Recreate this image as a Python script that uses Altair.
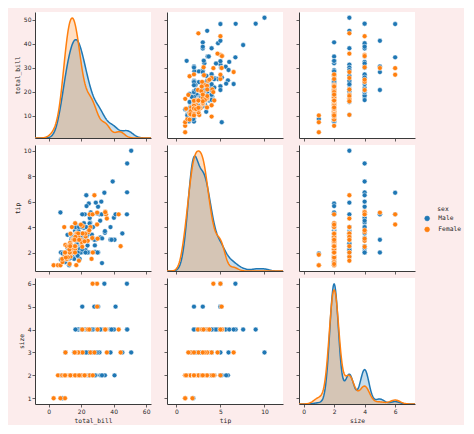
import numpy as np
import pandas as pd
import altair as alt

total_bill = [
    16.99, 10.34, 21.01, 23.68, 24.59, 25.29, 8.77, 26.88, 15.04, 14.78,
    10.27, 35.26, 15.42, 18.43, 14.83, 21.58, 10.33, 16.29, 16.97, 20.65,
    17.92, 20.29, 15.77, 39.42, 19.82, 17.81, 13.37, 12.69, 21.70, 19.65,
    9.55, 18.35, 15.06, 20.69, 17.78, 24.06, 16.31, 16.93, 18.69, 31.27,
    16.04, 17.46, 13.94, 9.68, 30.40, 18.29, 22.23, 32.40, 28.55, 18.04,
    12.54, 10.29, 34.81, 9.94, 25.56, 19.49, 38.01, 26.41, 11.24, 48.27,
    20.29, 13.81, 11.02, 18.29, 17.59, 20.08, 16.45, 3.07, 20.23, 15.01,
    12.02, 17.07, 26.86, 25.28, 14.73, 10.51, 17.92, 27.20, 22.76, 17.29,
    19.44, 16.66, 10.07, 32.68, 15.98, 34.83, 13.03, 18.28, 24.71, 21.16,
    28.97, 22.49, 5.75, 16.32, 22.75, 40.17, 27.28, 12.03, 21.01, 12.46,
    11.35, 15.38, 44.30, 22.42, 20.92, 15.36, 20.49, 25.21, 18.24, 14.31,
    14.00, 7.25, 38.07, 23.95, 25.71, 17.31, 29.93, 10.65, 12.43, 24.08,
    11.69, 13.42, 14.26, 15.95, 12.48, 29.80, 8.52, 14.52, 11.38, 22.82,
    19.08, 20.27, 11.17, 12.26, 18.26, 8.51, 10.33, 14.15, 16.00, 13.16,
    17.47, 34.30, 41.19, 27.05, 16.43, 8.35, 18.64, 11.87, 9.78, 7.51,
    14.07, 13.13, 17.26, 24.55, 19.77, 29.85, 48.17, 25.00, 13.39, 16.49,
    21.50, 12.66, 16.21, 13.81, 17.51, 24.52, 20.76, 31.71, 10.59, 10.63,
    50.81, 15.81, 7.25, 31.85, 16.82, 32.90, 17.89, 14.48, 9.60, 34.63,
    34.65, 23.33, 45.35, 23.17, 40.55, 20.69, 20.90, 30.46, 18.15, 23.10,
    15.69, 19.81, 28.44, 15.48, 16.58, 7.56, 10.34, 43.11, 13.00, 13.51,
    18.71, 12.74, 13.00, 16.40, 20.53, 16.47, 26.59, 38.73, 24.27, 12.76,
    30.06, 25.89, 48.33, 13.27, 28.17, 12.90, 28.15, 11.59, 7.74, 30.14,
    12.16, 13.42, 8.58, 15.98, 13.42, 16.27, 10.09, 20.45, 13.28, 22.12,
    24.01, 15.69, 11.61, 10.77, 15.53, 10.07, 12.60, 32.83, 35.83, 29.03,
    27.18, 22.67, 17.82, 18.78,
]

tip = [
    1.01, 1.66, 3.50, 3.31, 3.61, 4.71, 2.00, 3.12, 1.96, 3.23,
    1.71, 5.00, 1.57, 3.00, 3.02, 3.92, 1.67, 3.71, 3.50, 3.35,
    4.08, 2.75, 2.23, 7.58, 3.18, 2.34, 2.00, 2.00, 4.30, 3.00,
    1.45, 2.50, 3.00, 2.45, 3.27, 3.60, 2.00, 3.07, 2.31, 5.00,
    2.24, 2.54, 3.06, 1.32, 5.60, 3.00, 5.00, 6.00, 2.05, 3.00,
    2.50, 2.60, 5.20, 1.56, 4.34, 3.51, 3.00, 1.50, 1.76, 6.73,
    3.21, 2.00, 1.98, 3.76, 2.64, 3.15, 2.47, 1.00, 2.01, 2.09,
    1.97, 3.00, 3.14, 5.00, 2.20, 1.25, 3.08, 4.00, 3.00, 2.71,
    3.00, 3.40, 1.83, 5.00, 2.03, 5.17, 2.00, 4.00, 5.85, 3.00,
    3.00, 3.50, 1.00, 4.30, 3.25, 4.73, 4.00, 1.50, 3.00, 1.50,
    2.50, 3.00, 2.50, 3.48, 4.08, 1.64, 4.06, 4.29, 3.76, 4.00,
    3.00, 1.00, 4.00, 2.55, 4.00, 3.50, 5.07, 1.50, 1.80, 2.92,
    2.31, 1.68, 2.50, 2.00, 2.52, 4.20, 1.48, 2.00, 2.00, 2.18,
    1.50, 2.83, 1.50, 2.00, 3.25, 1.25, 2.00, 2.00, 2.00, 2.75,
    3.50, 6.70, 5.00, 5.00, 2.30, 1.50, 1.36, 1.63, 1.73, 2.00,
    2.50, 2.00, 2.74, 2.00, 2.00, 5.14, 5.00, 3.75, 2.61, 2.00,
    3.50, 2.50, 2.00, 2.00, 3.00, 3.48, 2.24, 4.50, 1.61, 2.00,
    10.00, 3.16, 5.15, 3.18, 4.00, 3.11, 2.00, 2.00, 4.00, 3.55,
    3.68, 5.65, 3.50, 6.50, 3.00, 5.00, 3.50, 2.00, 3.50, 4.00,
    1.50, 4.19, 2.56, 2.02, 4.00, 1.44, 2.00, 5.00, 2.00, 2.00,
    4.00, 2.01, 2.00, 2.50, 4.00, 3.23, 3.41, 3.00, 2.03, 2.23,
    2.00, 5.16, 9.00, 2.50, 6.50, 1.10, 3.00, 1.50, 1.44, 3.09,
    2.20, 3.48, 1.92, 3.00, 1.58, 2.50, 2.00, 3.00, 2.72, 2.88,
    2.00, 3.00, 3.39, 1.47, 3.00, 1.25, 1.00, 1.17, 4.67, 5.92,
    2.00, 2.00, 1.75, 3.00,
]

party_size = [
    2, 3, 3, 2, 4, 4, 2, 4, 2, 2,
    2, 4, 2, 4, 2, 2, 3, 3, 3, 3,
    2, 2, 2, 4, 2, 4, 2, 2, 2, 2,
    2, 4, 2, 4, 2, 3, 3, 3, 3, 3,
    3, 2, 2, 2, 4, 2, 2, 4, 3, 2,
    2, 2, 4, 2, 4, 2, 4, 2, 2, 4,
    2, 2, 2, 4, 3, 3, 2, 1, 2, 2,
    2, 3, 2, 2, 2, 2, 2, 4, 2, 2,
    2, 2, 1, 2, 2, 4, 2, 2, 2, 2,
    2, 2, 2, 2, 2, 4, 2, 2, 2, 2,
    2, 2, 3, 2, 2, 2, 2, 2, 2, 2,
    2, 1, 3, 2, 3, 2, 4, 2, 2, 4,
    2, 2, 2, 2, 2, 6, 2, 2, 2, 3,
    2, 2, 2, 2, 2, 2, 2, 2, 2, 2,
    2, 6, 5, 6, 2, 2, 3, 2, 2, 2,
    2, 2, 3, 4, 4, 5, 6, 4, 2, 4,
    4, 2, 3, 2, 2, 3, 2, 4, 2, 2,
    3, 2, 2, 2, 2, 2, 2, 2, 2, 2,
    4, 2, 3, 4, 2, 5, 3, 5, 3, 3,
    2, 2, 2, 2, 2, 2, 2, 4, 2, 2,
    3, 2, 2, 2, 4, 3, 3, 4, 2, 2,
    3, 4, 4, 2, 3, 2, 5, 2, 2, 4,
    2, 2, 1, 3, 2, 2, 2, 4, 2, 2,
    4, 3, 2, 2, 2, 2, 2, 2, 3, 3,
    2, 2, 2, 2,
]

sex_codes = (
    "FMMMFMMMMM" "MFMMFMFMFM" "MFFMMMMMMF" "MMFFMMMFMM" "MMMMMMMMMM"
    "MFFMMMMFMM" "MMMMMMFFMM" "MFFFFMMMMM" "MMFMMFMMMM" "MMFFFMMMMM"
    "FFFFFMMMMF" "MFMMFFMFFF" "MFMMFFMFFM" "MFFFFFFFMF" "FMMFFFFFMM"
    "MMMMMFMFFM" "MMFMFMMMFF" "MMMMMMMMFM" "MMMMMMFMFM" "MFMMMMMFFM"
    "MFFFMFMMMF" "MMMFFFMMMF" "MFMFMFFMMF" "MMMMMMMMFM" "FMMF"
)
sex = ["Male" if c == "M" else "Female" for c in sex_codes]

hue_levels = ["Male", "Female"]
hue_colors = ["#1f77b4", "#ff7f0e"]
variables = ["total_bill", "tip", "size"]

x_domains = {"total_bill": [-8.4, 63.0], "tip": [-1.06, 12.1], "size": [-0.3, 7.3]}
y_domains = {"total_bill": [0.68, 53.2], "tip": [0.55, 10.45], "size": [0.75, 6.25]}
x_ticks = {"total_bill": [0, 20, 40, 60], "tip": [0, 5, 10], "size": [0, 2, 4, 6]}
y_ticks = {"total_bill": [10, 20, 30, 40, 50], "tip": [2, 4, 6, 8, 10], "size": [1, 2, 3, 4, 5, 6]}

df = pd.DataFrame({"total_bill": total_bill, "tip": tip, "size": party_size, "sex": sex})
df["hue_order"] = (df["sex"] == "Female").astype(int)
df = df.sort_values("hue_order", kind="stable").reset_index(drop=True)

PW, PH = 116, 126
AX_COLOR = "#3a3a3a"
TXT = "#262626"


def kde_peak(vals, lo, hi):
    v = np.asarray(vals, dtype=float)
    n = len(v)
    sd = v.std(ddof=1)
    q1, q3 = np.percentile(v, [25, 75])
    spread = min(sd, (q3 - q1) / 1.34) or sd
    bw = 1.06 * spread * n ** -0.2
    grid = np.linspace(lo, hi, 200)
    dens = np.exp(-0.5 * ((grid[:, None] - v[None, :]) / bw) ** 2).sum(1) / (n * bw * np.sqrt(2 * np.pi))
    return dens.max()


def make_axis(ticks, show_labels, title, orient):
    kw = dict(values=ticks, labels=show_labels, grid=False, orient=orient,
              tickSize=3, tickWidth=0.8, tickColor=AX_COLOR,
              domainColor=AX_COLOR, domainWidth=1,
              labelFont="DejaVu Sans", labelFontSize=6, labelColor=TXT, labelPadding=1,
              titleFont="DejaVu Sans Mono", titleFontSize=6.3, titleColor=TXT,
              titleFontWeight="normal", titlePadding=3)
    if show_labels:
        kw["title"] = title
    else:
        kw["title"] = None
    return alt.Axis(**kw)


color_legend = alt.Legend(
    title="sex", orient="none", legendX=389, legendY=194,
    titleFont="DejaVu Sans Mono", titleFontSize=6.3, titleFontWeight="normal", titleColor=TXT,
    labelFont="DejaVu Sans Mono", labelFontSize=6.3, labelColor=TXT, labelOffset=8,
    symbolType="circle", symbolSize=24, symbolStrokeColor="white", symbolStrokeWidth=0.5,
    symbolOpacity=1,
    rowPadding=3, titlePadding=3, titleAnchor="middle",
)
color_enc = alt.Color("sex:N", scale=alt.Scale(domain=hue_levels, range=hue_colors), legend=color_legend)

panels = []
for ri, rv in enumerate(variables):
    for ci, cv in enumerate(variables):
        xaxis = make_axis(x_ticks[cv], ri == 2, cv, "bottom")
        yaxis = make_axis(y_ticks[rv], ci == 0, rv, "left")
        xscale = alt.Scale(domain=x_domains[cv], nice=False, zero=False)
        yscale = alt.Scale(domain=y_domains[rv], nice=False, zero=False)
        if ri != ci:
            p = alt.Chart(df).mark_point(
                filled=True, size=24, stroke="white", strokeWidth=0.5, opacity=1
            ).encode(
                x=alt.X(f"{cv}:Q", scale=xscale, axis=xaxis),
                y=alt.Y(f"{rv}:Q", scale=yscale, axis=yaxis),
                color=color_enc,
            ).properties(width=PW, height=PH)
        else:
            lo, hi = x_domains[cv]
            peak = max(kde_peak(df.loc[df.sex == s, cv], lo, hi) for s in hue_levels)
            dens = alt.Chart(df).transform_density(
                cv, groupby=["sex"], extent=[lo, hi], steps=200, as_=[cv, "density"]
            ).mark_area(
                fillOpacity=0.25, clip=True, line=alt.OverlayMarkDef(strokeWidth=1.5)
            ).encode(
                x=alt.X(f"{cv}:Q", scale=xscale, axis=xaxis),
                y=alt.Y("density:Q", stack=None,
                        scale=alt.Scale(domain=[0, peak * 1.05], nice=False, zero=True), axis=None),
                color=color_enc,
            )
            dummy = alt.Chart(df).mark_point(opacity=0).encode(
                y=alt.Y(f"{rv}:Q", scale=yscale, axis=yaxis),
            )
            p = alt.layer(dens, dummy).resolve_scale(y="independent").properties(width=PW, height=PH)
        panels.append(p)

chart = alt.concat(
    *panels, columns=3, spacing={"row": 7, "column": 16}, bounds="flush"
).properties(
    background="#fcecec",
    padding={"left": 6, "top": 4, "right": 2, "bottom": 1},
).configure_view(fill="white", stroke=None)

chart.save("out.html", embed_options={"renderer": "svg", "actions": False})
